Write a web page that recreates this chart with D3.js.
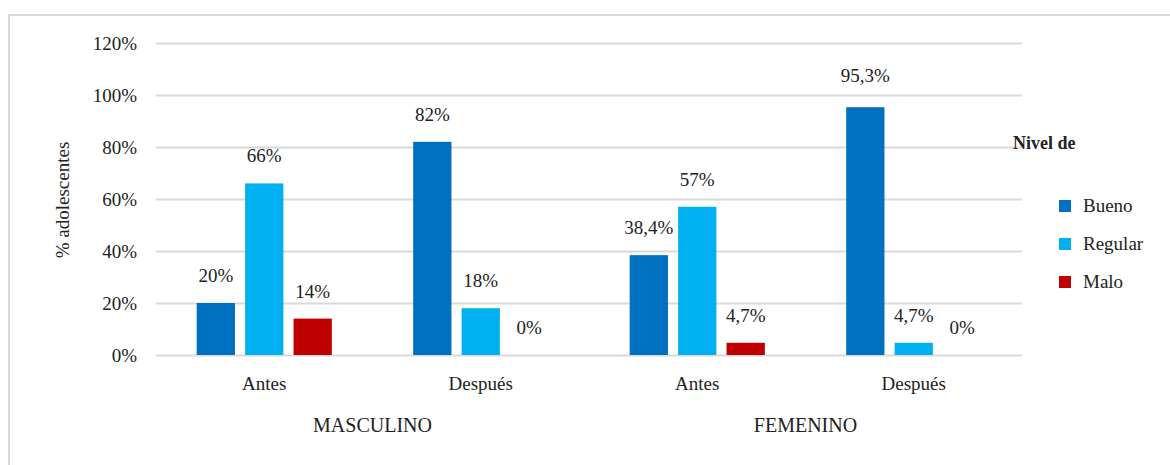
<!DOCTYPE html>
<html lang="es">
<head>
  <meta charset="utf-8">
  <title>Nivel de conocimiento</title>
  <script src="https://d3js.org/d3.v7.min.js"></script>
  <style>
    body { margin: 0; background: #fff; }
    svg text { font-family: "Liberation Serif", "Tinos", "Times New Roman", "Times", "Noto Serif", "DejaVu Serif", serif; fill: #222; }
    .grid line { stroke: #d9d9d9; stroke-width: 2px; }
    .grid path { display: none; }
    .yAxis path, .yAxis line { display: none; }
    .yAxis text { font-size: 19px; }
  </style>
</head>
<body>
  <div id="chart"></div>
  <script>

    // data
    var groups = ['MASCULINO', 'FEMENINO'];
    var phases = ['Antes', 'Después'];
    var series = ['Bueno', 'Regular', 'Malo'];
    var colors = ['#0070C0', '#00B0F0', '#C00000'];
    var bueno = [20, 82, 38.4, 95.3];
    var regular = [66, 18, 57, 4.7];
    var malo = [14, 0, 4.7, 0];
    var valueLabels = [
      ['20%', '82%', '38,4%', '95,3%'],
      ['66%', '18%', '57%', '4,7%'],
      ['14%', '0%', '4,7%', '0%']
    ];
    var yTicks = [0, 20, 40, 60, 80, 100, 120];

    var W = 1170, H = 465;
    var margin = { left: 156, right: 148, top: 43, bottom: 110 };
    var w = W - margin.left - margin.right;
    var h = H - margin.top - margin.bottom;

    var cats = [];
    groups.forEach(function(g) {
      phases.forEach(function(p) { cats.push(g + '|' + p); });
    });
    var values = [bueno, regular, malo];

    var svg = d3.select('#chart').append('svg')
      .attr('width', W)
      .attr('height', H);

    // outer frame
    svg.append('rect')
      .attr('x', 9).attr('y', 15)
      .attr('width', W + 10).attr('height', H + 10)
      .attr('fill', 'none')
      .attr('stroke', '#d9d9d9')
      .attr('stroke-width', 2);

    var g = svg.append('g')
      .attr('transform', 'translate(' + margin.left + ',' + margin.top + ')');

    var yScale = d3.scaleLinear().domain([0, 120]).range([h, 0]);
    var xScale = d3.scaleBand().domain(cats).range([0, w]).padding(0);
    var xInner = d3.scaleBand().domain(series)
      .range([0, xScale.bandwidth()])
      .paddingInner(0.21)
      .paddingOuter(0.84);

    g.append('g')
      .attr('class', 'grid')
      .call(d3.axisLeft(yScale).tickValues(yTicks).tickSize(-w).tickFormat(''));

    g.append('g')
      .attr('class', 'yAxis')
      .call(d3.axisLeft(yScale).tickValues(yTicks).tickPadding(13)
        .tickFormat(function(d) { return d + '%'; }));

    // bars
    series.forEach(function(s, si) {
      var sg = g.append('g').attr('class', 'series');
      sg.selectAll('rect')
        .data(values[si])
        .enter()
        .append('rect')
        .attr('x', function(d, i) { return xScale(cats[i]) + xInner(s); })
        .attr('y', function(d) { return yScale(d); })
        .attr('width', xInner.bandwidth())
        .attr('height', function(d) { return h - yScale(d); })
        .attr('fill', colors[si]);

      sg.selectAll('text')
        .data(values[si])
        .enter()
        .append('text')
        .attr('x', function(d, i) { return xScale(cats[i]) + xInner(s) + xInner.bandwidth() / 2; })
        .attr('y', function(d) { return yScale(d) - (d > 90 ? 25 : 21); })
        .attr('text-anchor', 'middle')
        .style('font-size', '19px')
        .text(function(d, i) { return valueLabels[si][i]; });
    });

    // category labels
    g.selectAll('.phase')
      .data(cats)
      .enter()
      .append('text')
      .attr('class', 'phase')
      .attr('x', function(d) { return xScale(d) + xScale.bandwidth() / 2; })
      .attr('y', h + 35)
      .attr('text-anchor', 'middle')
      .style('font-size', '19px')
      .text(function(d) { return d.split('|')[1]; });

    g.selectAll('.group')
      .data(groups)
      .enter()
      .append('text')
      .attr('class', 'group')
      .attr('x', function(d, i) { return xScale(d + '|' + phases[0]) + xScale.bandwidth(); })
      .attr('y', h + 77)
      .attr('text-anchor', 'middle')
      .style('font-size', '20px')
      .text(function(d) { return d; });

    // y title
    svg.append('text')
      .attr('transform', 'translate(69,' + 200 + ') rotate(-90)')
      .attr('text-anchor', 'middle')
      .style('font-size', '19px')
      .text('% adolescentes');

    // legend
    var lg = svg.append('g').attr('transform', 'translate(1013,0)');
    lg.append('text')
      .attr('x', 0).attr('y', 149)
      .style('font-size', '18px')
      .style('font-weight', 'bold')
      .text('Nivel de');

    var items = lg.selectAll('.item')
      .data(series)
      .enter()
      .append('g')
      .attr('class', 'item')
      .attr('transform', function(d, i) { return 'translate(46,' + (206 + i * 38) + ')'; });
    items.append('rect')
      .attr('x', 0).attr('y', -6)
      .attr('width', 12).attr('height', 12)
      .attr('fill', function(d, i) { return colors[i]; });
    items.append('text')
      .attr('x', 24).attr('y', 6)
      .style('font-size', '19px')
      .text(function(d) { return d; });

  </script>
</body>
</html>
